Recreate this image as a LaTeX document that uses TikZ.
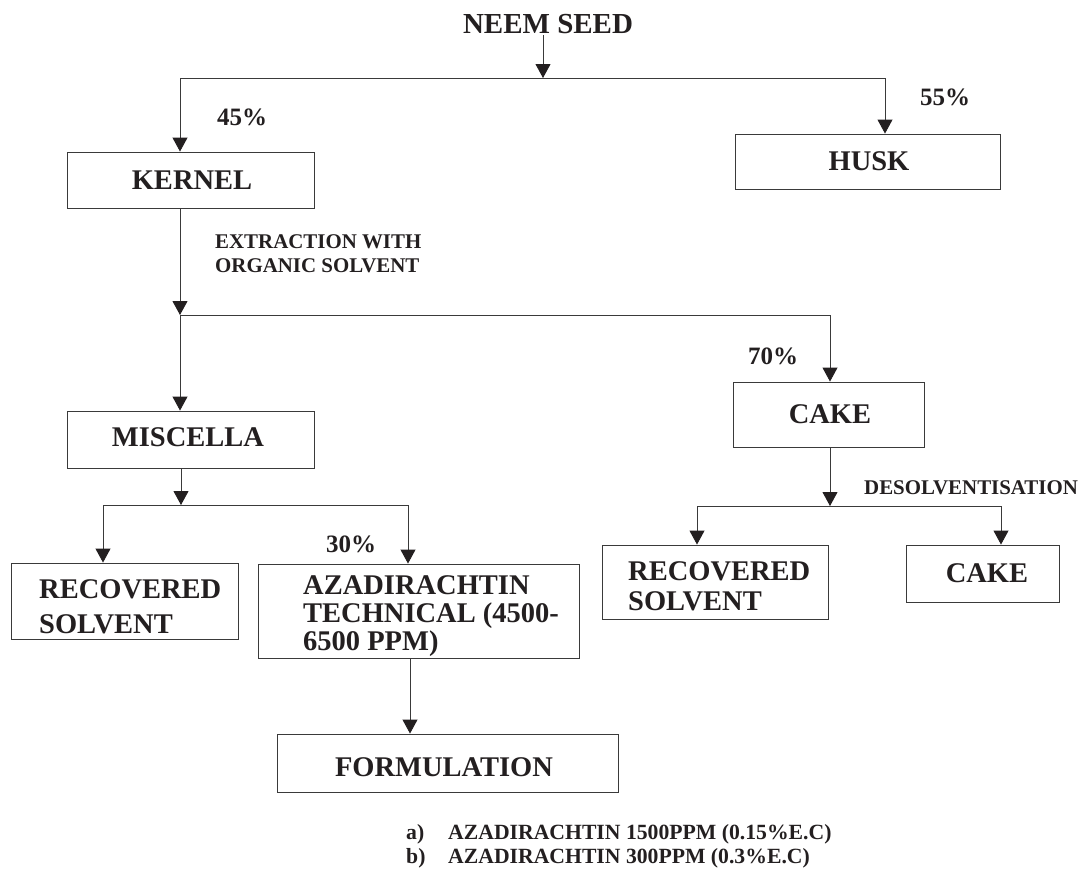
\documentclass[tikz,border=0pt]{standalone}
\usepackage{fontspec}
\setmainfont{Liberation Serif}
\usetikzlibrary{arrows.meta}
\definecolor{ink}{HTML}{231F20}
\definecolor{linec}{HTML}{3A3A3A}
\begin{document}
\begin{tikzpicture}[x=1pt,y=-1pt,
  line/.style={draw=linec, line width=0.9pt},
  arr/.style={line, -{Triangle[length=14pt,width=15pt,color=ink]}},
  box/.style={draw=linec, line width=0.9pt, inner sep=0pt, rectangle},
  big/.style={font=\bfseries\fontsize{28.5}{34}\selectfont, text=ink, inner sep=0pt},
  pct/.style={font=\bfseries\fontsize{25}{30}\selectfont, text=ink, inner sep=0pt},
  small/.style={font=\bfseries\fontsize{20.9}{24}\selectfont, text=ink, inner sep=0pt},
  lst/.style={font=\bfseries\fontsize{21.7}{24}\selectfont, text=ink, inner sep=0pt}]
\useasboundingbox[fill=white] (0,0) rectangle (1084,870);

% title
\node[big, font=\bfseries\fontsize{29}{34}\selectfont, anchor=base] (neem) at (548,33) {NEEM SEED};

% boxes
\node[box, minimum width=247pt, minimum height=56pt] (kernel) at (190.5,180) {};
\node[box, minimum width=265pt, minimum height=55pt] (husk) at (867.5,161.5) {};
\node[box, minimum width=247pt, minimum height=57pt] (misc) at (190.5,439.5) {};
\node[box, minimum width=191pt, minimum height=65pt] (cakeA) at (828.5,414.5) {};
\node[box, minimum width=227pt, minimum height=76pt] (rsA) at (124.5,601) {};
\node[box, minimum width=321pt, minimum height=94pt] (aza) at (418.5,611) {};
\node[box, minimum width=341pt, minimum height=58pt] (form) at (447.5,763) {};
\node[box, minimum width=226pt, minimum height=74pt] (rsB) at (715,582) {};
\node[box, minimum width=153pt, minimum height=57pt] (cakeB) at (982.5,573.5) {};

% box texts
\node[big, anchor=base] (tkernel) at (192,189) {KERNEL};
\node[big, anchor=base] (thusk) at (869,170) {HUSK};
\node[big, anchor=base] (tmisc) at (188,446) {MISCELLA};
\node[big, anchor=base] (tcakeA) at (830,423) {CAKE};
\node[big, anchor=base west] (trsA1) at (39,598) {RECOVERED};
\node[big, anchor=base west] (trsA2) at (39,633) {SOLVENT};
\node[big, anchor=base west] (taza1) at (303,594) {AZADIRACHTIN};
\node[big, anchor=base west] (taza2) at (303,622) {TECHNICAL (4500-};
\node[big, anchor=base west] (taza3) at (303,650) {6500 PPM)};
\node[big, anchor=base] (tform) at (444,776) {FORMULATION};
\node[big, anchor=base west] (trsB1) at (628,580) {RECOVERED};
\node[big, anchor=base west] (trsB2) at (628,610) {SOLVENT};
\node[big, anchor=base] (tcakeB) at (987,582) {CAKE};

% percentages and labels
\node[pct, anchor=base west] (p45) at (217,125) {45\%};
\node[pct, anchor=base west] (p55) at (920,105) {55\%};
\node[pct, anchor=base west] (p70) at (748,364) {70\%};
\node[pct, anchor=base west] (p30) at (326,552) {30\%};
\node[small, anchor=base west] (ext1) at (215,248) {EXTRACTION WITH};
\node[small, anchor=base west] (ext2) at (215,272) {ORGANIC SOLVENT};
\node[small, anchor=base west] (desol) at (864,494) {DESOLVENTISATION};

% list
\node[lst, anchor=base west] (la) at (406,839) {a)};
\node[lst, anchor=base west] (lat) at (448,839) {AZADIRACHTIN 1500PPM (0.15\%E.C)};
\node[lst, anchor=base west] (lb) at (406,863) {b)};
\node[lst, anchor=base west] (lbt) at (448,863) {AZADIRACHTIN 300PPM (0.3\%E.C)};

% junction coordinates
\coordinate (j1) at (543,78);
\coordinate (j1L) at (180,78);
\coordinate (j1R) at (885,78);
\coordinate (j2) at (180,315);
\coordinate (j2R) at (830,315);
\coordinate (j3) at (181,505);
\coordinate (j3L) at (103,505);
\coordinate (j3R) at (408,505);
\coordinate (j4) at (830,506);
\coordinate (j4L) at (697,506);
\coordinate (j4R) at (1001,506);
\coordinate (j5) at (410,700);

% connectors
\draw[arr] ([yshift=-2pt]neem.south -| j1) -- (j1);
\draw[line] (j1L) -- (j1R);
\draw[arr] (j1L) -- (kernel.north -| j1L);
\draw[arr] (j1R) -- (husk.north -| j1R);

\draw[arr] (kernel.south -| j2) -- (j2);
\draw[line] (j2) -- (j2R);
\draw[arr] (j2) -- (misc.north -| j2);
\draw[arr] (j2R) -- (cakeA.north -| j2R);

\draw[arr] (misc.south -| j3) -- (j3);
\draw[line] (j3L) -- (j3R);
\draw[arr] (j3L) -- (rsA.north -| j3L);
\draw[arr] (j3R) -- (aza.north -| j3R);
\draw[arr] (aza.south -| j5) -- (form.north -| j5);

\draw[arr] (cakeA.south -| j4) -- (j4);
\draw[line] (j4L) -- (j4R);
\draw[arr] (j4L) -- (rsB.north -| j4L);
\draw[arr] (j4R) -- (cakeB.north -| j4R);
\end{tikzpicture}
\end{document}
